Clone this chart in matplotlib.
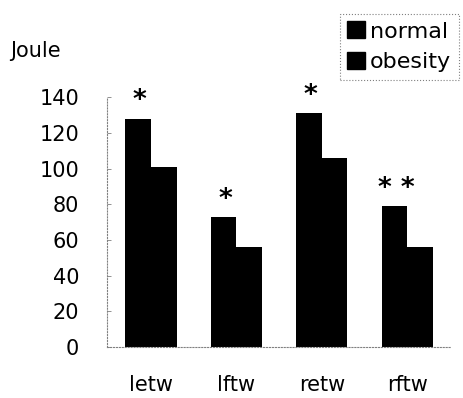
import matplotlib
matplotlib.use('Agg')
import matplotlib.pyplot as plt
from matplotlib.patches import Patch
import numpy as np

categories = ['letw', 'lftw', 'retw', 'rftw']
normal = [128, 73, 131, 79]
obesity = [101, 56, 106, 56]
stars = ['*', '*', '*', '* *']
yticks = [0, 20, 40, 60, 80, 100, 120, 140]

plt.rcParams['font.family'] = ['DejaVu Sans']

fig = plt.figure(figsize=(4.63, 3.98), dpi=100)
ax = fig.add_axes([0.231, 0.128, 0.741, 0.628])

x = np.arange(len(categories))
w = 0.3
ax.bar(x - w / 2, normal, w, color='black', label='normal')
ax.bar(x + w / 2, obesity, w, color='black', label='obesity')

# significance marks above the normal bars
for xi, v, s in zip(x, normal, stars):
    ax.annotate(s, (xi - w / 2, v), xytext=(1, 3), textcoords='offset points',
                ha='center', va='bottom', fontsize=19, fontweight='bold')

ax.set_xlim(-0.515, 3.5)
ax.set_ylim(0, 140)
ax.set_yticks(yticks)
ax.set_xticks(x)
ax.set_xticklabels(categories, fontsize=15)
ax.tick_params(axis='y', labelsize=15, direction='in', length=3, width=0.6,
               color='gray', pad=20)
ax.tick_params(axis='x', length=0, pad=20)

for side in ['top', 'right']:
    ax.spines[side].set_visible(False)
for side in ['left', 'bottom']:
    ax.spines[side].set_linestyle(':')
    ax.spines[side].set_color('gray')
    ax.spines[side].set_linewidth(0.8)

fig.text(0.022, 0.872, 'Joule', fontsize=15, ha='left', va='center')

handles = [Patch(color='black', label='normal'), Patch(color='black', label='obesity')]
leg = fig.legend(handles=handles, loc='upper right', bbox_to_anchor=(1.0, 0.977),
                 fontsize=16, handlelength=0.8, handleheight=0.8, handletextpad=0.2,
                 borderpad=0.35, labelspacing=0.45, borderaxespad=0.2,
                 fancybox=False, framealpha=1)
leg.get_frame().set_edgecolor('gray')
leg.get_frame().set_linestyle(':')
leg.get_frame().set_linewidth(0.8)

fig.savefig('out.png', dpi=100)
